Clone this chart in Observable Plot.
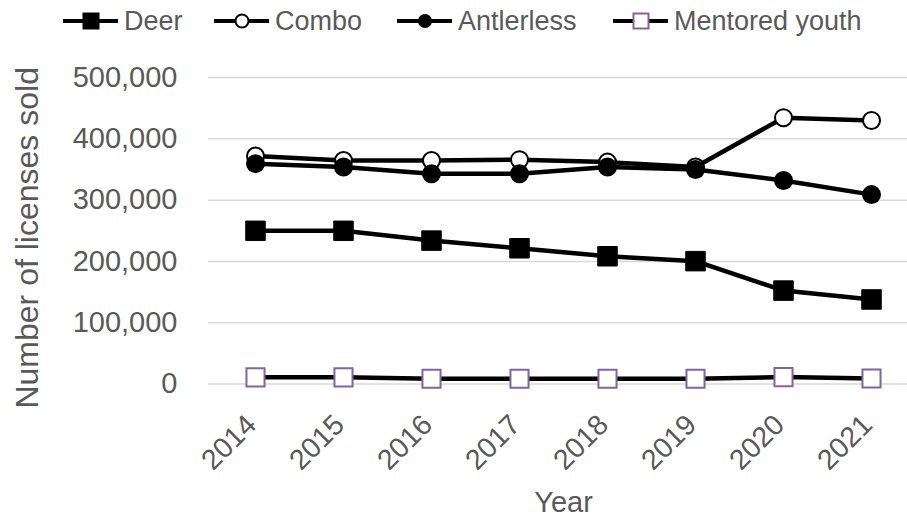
<!DOCTYPE html>
<html>
<head>
<meta charset="utf-8">
<script src="https://cdn.jsdelivr.net/npm/d3@7"></script>
<script src="https://cdn.jsdelivr.net/npm/@observablehq/plot@0.6"></script>
<style>
  html, body { margin: 0; padding: 0; background: #fff; }
  #wrap { position: relative; width: 907px; height: 524px; overflow: hidden; font-family: "Liberation Sans", Arial, sans-serif; }
  #legend { position: relative; width: 907px; height: 40px; }
  .item { position: absolute; top: 0; height: 40px; }
  .item svg { position: absolute; left: 0; top: 0; }
  .item span { position: absolute; top: 4px; white-space: nowrap; font-size: 27px; color: #595959; line-height: 34px; }
</style>
</head>
<body>
<div id="wrap">
  <div id="legend"></div>
  <div id="chart"></div>
</div>
<script>
const years = ["2014", "2015", "2016", "2017", "2018", "2019", "2020", "2021"];
const seriesNames = ["Deer", "Combo", "Antlerless", "Mentored youth"];
const deer = [250000, 250000, 234000, 221500, 208500, 200500, 152500, 138000];
const combo = [372000, 364500, 364500, 366000, 362000, 354000, 434500, 430000];
const antlerless = [359500, 354000, 343000, 343000, 354000, 350000, 332000, 309000];
const mentoredYouth = [11000, 11000, 8800, 8800, 8800, 8800, 11400, 9000];
const yTicks = [0, 100000, 200000, 300000, 400000, 500000];
const yTitle = "Number of licenses sold";
const xTitle = "Year";

const valuesBySeries = [deer, combo, antlerless, mentoredYouth];
const rows = seriesNames.map((s, i) => years.map((y, j) => ({series: s, year: y, value: valuesBySeries[i][j]})));

const markerStyle = {
  "Deer": {symbol: "square", r: 11, fill: "black", stroke: "black", strokeWidth: 1},
  "Combo": {symbol: "circle", r: 8.5, fill: "white", stroke: "black", strokeWidth: 2},
  "Antlerless": {symbol: "circle", r: 9.5, fill: "black", stroke: "none", strokeWidth: 0},
  "Mentored youth": {symbol: "square", r: 10.2, fill: "white", stroke: "#8064A2", strokeWidth: 2}
};

const seriesMarks = [];
rows.forEach((data, i) => {
  const st = markerStyle[seriesNames[i]];
  seriesMarks.push(Plot.line(data, {x: "year", y: "value", stroke: "black", strokeWidth: 4.5}));
  seriesMarks.push(Plot.dot(data, {x: "year", y: "value", symbol: st.symbol, r: st.r, fill: st.fill, stroke: st.stroke, strokeWidth: st.strokeWidth}));
});

const fmt = d3.format(",");
const chart = Plot.plot({
  width: 907,
  height: 484,
  marginTop: 37,
  marginBottom: 140.4,
  marginLeft: 208,
  marginRight: 0,
  style: {fontFamily: "'Liberation Sans', Arial, sans-serif", background: "white", overflow: "visible"},
  x: {type: "point", domain: years, range: [252.7, 873.6], padding: 0, axis: null},
  y: {domain: [0, 500000], nice: false, axis: null},
  marks: [
    Plot.ruleY(yTicks, {stroke: "#d9d9d9", strokeWidth: 1.5}),
    Plot.text(yTicks, {y: d => d, text: d => fmt(d), frameAnchor: "left", textAnchor: "end", dx: -31, fontSize: 29, fill: "#595959"}),
    Plot.text(years, {x: d => d, text: d => d, frameAnchor: "bottom", textAnchor: "end", lineAnchor: "middle", rotate: -45, dx: -4, dy: 36, fontSize: 28.5, fill: "#595959"}),
    Plot.text([xTitle], {frameAnchor: "bottom", dx: 5.5, dy: 128, fontSize: 29, fill: "#595959"}),
    Plot.text([yTitle], {frameAnchor: "left", textAnchor: "middle", rotate: -90, dx: -181, dy: 7, fontSize: 32, fill: "#595959"}),
    ...seriesMarks
  ]
});
document.getElementById("chart").appendChild(chart);

// Legend
const legendLeft = [63, 214, 397, 613];
const legendMarker = {
  "Deer": `<rect x="19.5" y="12.5" width="17" height="17" fill="black"/>`,
  "Combo": `<circle cx="28" cy="21" r="6.5" fill="white" stroke="black" stroke-width="2"/>`,
  "Antlerless": `<circle cx="28" cy="21" r="7" fill="black"/>`,
  "Mentored youth": `<rect x="20.5" y="13.5" width="15" height="15" fill="white" stroke="#8064A2" stroke-width="2"/>`
};
const legend = document.getElementById("legend");
seriesNames.forEach((s, i) => {
  const div = document.createElement("div");
  div.className = "item";
  div.style.left = legendLeft[i] + "px";
  div.innerHTML = `<svg width="56" height="40"><line x1="0" x2="55" y1="21" y2="21" stroke="black" stroke-width="4"/>${legendMarker[s]}</svg><span style="left:61px">${s}</span>`;
  legend.appendChild(div);
});
</script>
</body>
</html>
